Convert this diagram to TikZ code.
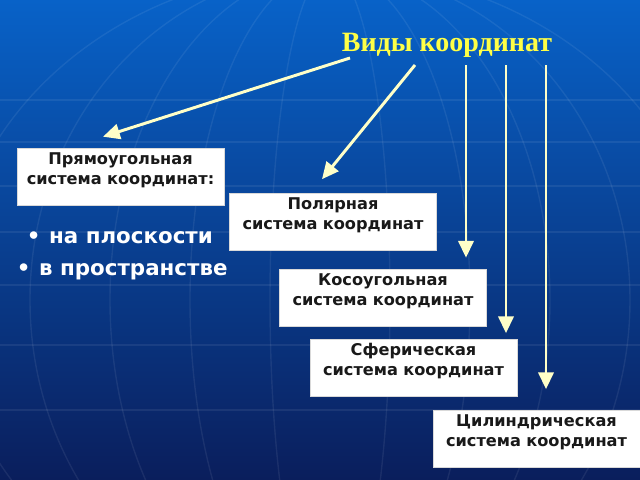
\documentclass[tikz,border=0pt]{standalone}
\usepackage{fontspec}
\setmainfont{DejaVu Sans}
\newfontfamily\titlefont{Liberation Serif}
\usetikzlibrary{positioning,arrows.meta}

\definecolor{bgtop}{RGB}{8,98,200}
\definecolor{bgmid}{RGB}{10,62,160}
\definecolor{bgbot}{RGB}{10,30,92}
\definecolor{arrowcream}{RGB}{255,255,200}
\definecolor{titleyellow}{RGB}{255,255,70}

\tikzset{
    sysbox/.style={rectangle, fill=white, draw=black!15, inner xsep=0pt, inner ysep=0pt, text width=5.175cm, align=center, text height=0.41cm, text depth=1.015cm, text=black!90, font=\bfseries\fontsize{11.5}{14}\selectfont},
    arr/.style={draw=arrowcream, line width=2.1pt, -{Triangle[length=0.42cm,width=0.38cm]}},
    point/.style={anchor=west, text=white, font=\bfseries\fontsize{15.2}{17}\selectfont}
}

\begin{document}
\begin{tikzpicture}[x=0.025cm, y=-0.025cm]
    \useasboundingbox (0,0) rectangle (640,480);
    \shade[top color=bgtop, middle color=bgmid, bottom color=bgbot] (0,0) rectangle (640,480);
    % globe grid
    \begin{scope}
        \clip (0,0) rectangle (640,480);
        \foreach \y in {100,142,186,232,285,345,410} {
            \draw[white, opacity=0.07, line width=1pt] (0,\y) -- (640,\y);
        }
        \foreach \r in {60,140,220,300,380} {
            \draw[white, opacity=0.07, line width=1pt] (330,300) ellipse (\r cm*0.025 and 330*0.025cm);
        }
    \end{scope}

    \node [font=\titlefont\bfseries\fontsize{19.9}{22}\selectfont, text=titleyellow] (title) at (447,45) {Виды координат};

    \node [sysbox] (rect) at (120.5,176.5) {Прямоугольная\\система координат:};
    \node [sysbox] (polar) at (333,222) {Полярная\\система координат};
    \node [sysbox] (oblique) at (383,297.5) {Косоугольная\\система координат};
    \node [sysbox] (sphere) at (413.5,368) {Сферическая\\система координат};
    \node [sysbox] (cyl) at (536.5,439) {Цилиндрическая\\система координат};

    \node [point] (plane) at (22,238) {•\hspace{0.4em}на плоскости};
    \node [point] (space) at (12,272) {•\hspace{0.4em}в пространстве};

    \coordinate (s1) at (350,58);
    \coordinate (s2) at (415,65);
    \coordinate (s3) at (466,65);
    \coordinate (s4) at (506,65);
    \coordinate (s5) at (546,65);

    \draw [arr] (s1) -- ([xshift=-0.4375cm, yshift=0.275cm] rect.north);
    \draw [arr] (s2) -- ([xshift=-0.275cm, yshift=0.35cm] polar.north);
    \draw [arr, shorten >=0.275cm] (s3) -- (s3 |- oblique.north);
    \draw [arr, shorten >=0.15cm] (s4) -- (s4 |- sphere.north);
    \draw [arr, shorten >=0.525cm] (s5) -- (s5 |- cyl.north);
\end{tikzpicture}
\end{document}
